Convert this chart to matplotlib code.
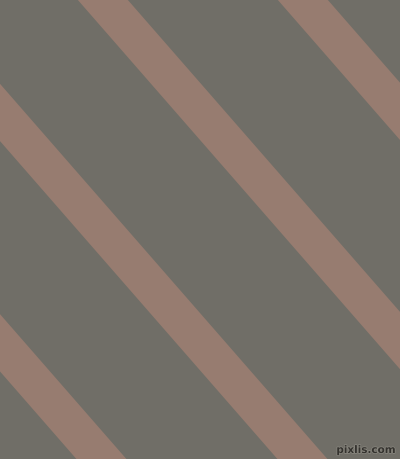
import matplotlib
matplotlib.use("Agg")
from matplotlib import pyplot as plt
import matplotlib.patheffects as pe

# stripe left edges where they cross the top border (pixels)
stripe_x0 = [-325, -124, 77, 277]
stripe_w = 50          # horizontal width of a stripe
slope = 1.146          # dy/dx of every stripe
W, H = 400, 460

bg_color = '#706e67'
stripe_color = '#977c70'

fig = plt.figure(figsize=(4, 4.6), dpi=100)
ax = fig.add_axes([0, 0, 1, 1])
ax.set_xlim(0, W)
ax.set_ylim(H, 0)
ax.axis('off')
fig.patch.set_facecolor(bg_color)
ax.set_facecolor(bg_color)

for x0 in stripe_x0:
    dx = H / slope
    xs = [x0, x0 + stripe_w, x0 + stripe_w + dx, x0 + dx]
    ys = [0, 0, H, H]
    ax.fill(xs, ys, color=stripe_color, lw=0, antialiased=True)

# watermark
ax.text(396, 451, 'pixlis.com', ha='right', va='center', fontsize=7.5,
        color='#35332f', family='DejaVu Sans', fontweight='bold',
        path_effects=[pe.withStroke(linewidth=1.0, foreground='#8a8880')])

fig.savefig('out.png', dpi=100, facecolor=bg_color)
